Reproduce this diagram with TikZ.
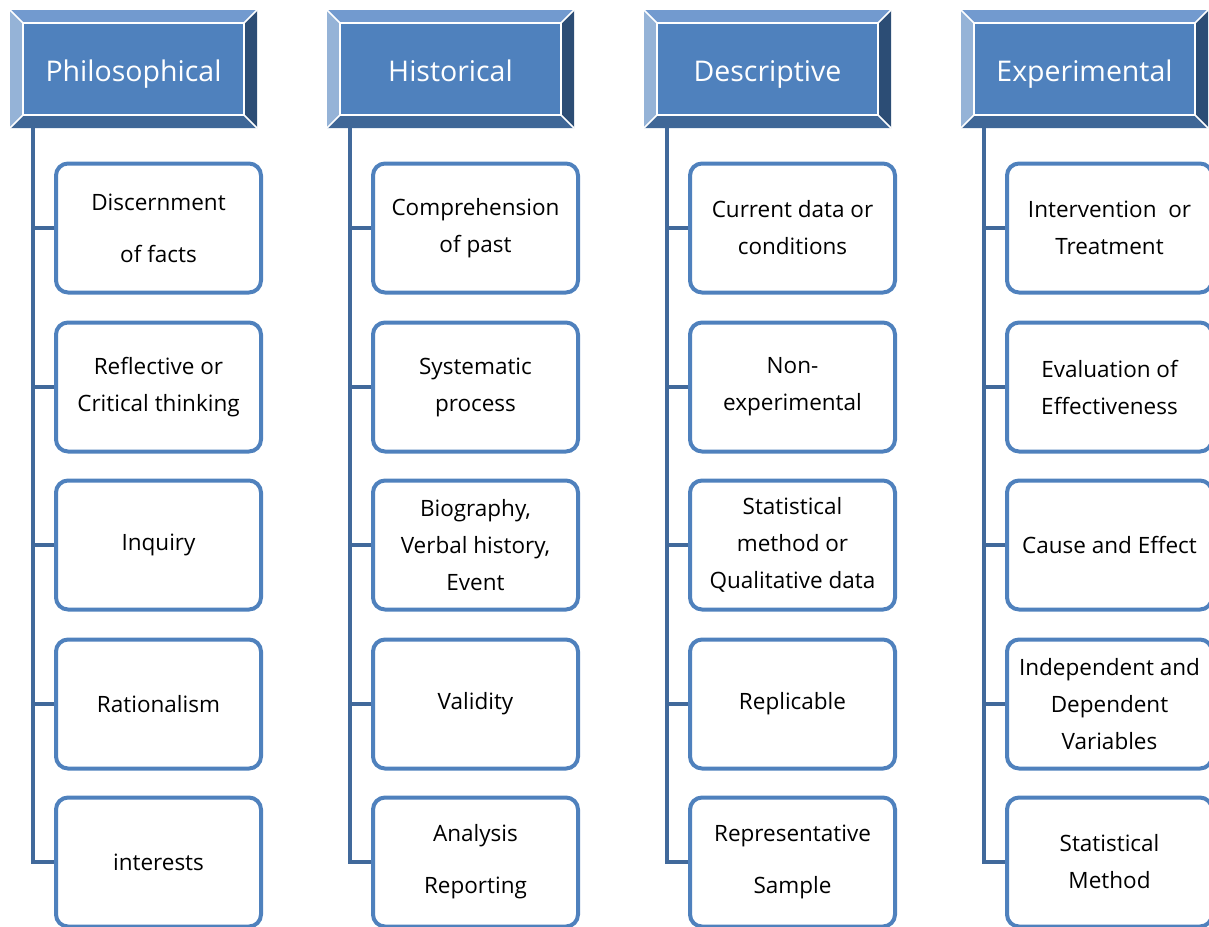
\documentclass[tikz,border=0pt]{standalone}
\usepackage{fontspec}
\setmainfont{Open Sans}
\definecolor{face}{HTML}{4F81BD}
\definecolor{btopc}{HTML}{729ACF}
\definecolor{bleftc}{HTML}{95B3D7}
\definecolor{brightc}{HTML}{2C4D75}
\definecolor{bbotc}{HTML}{3F6797}
\definecolor{spinec}{HTML}{41699B}
\tikzset{
  bev/.style={draw=white, line width=1.6pt, line join=miter},
  hface/.style={fill=face, draw=white, line width=1.6pt, minimum width=221pt, minimum height=92pt, inner sep=0pt},
  htext/.style={anchor=base, inner sep=0pt, text=white, font=\fontsize{28.5}{32}\selectfont},
  itembox/.style={draw=face, line width=4pt, rounded corners=12pt, fill=white, minimum width=205pt, minimum height=129pt, inner sep=0pt, align=center, font=\fontsize{22.5}{37}\selectfont},
  spine/.style={draw=spinec, line width=4pt}
}
\newcommand\hdr[3]{%
\begin{scope}[xshift=#2]
\fill[btopc] (10,10) -- (257,10) -- (244,23) -- (23,23) -- cycle;
\fill[bleftc] (10,10) -- (23,23) -- (23,115) -- (10,128) -- cycle;
\fill[brightc] (257,10) -- (244,23) -- (244,115) -- (257,128) -- cycle;
\fill[bbotc] (10,128) -- (23,115) -- (244,115) -- (257,128) -- cycle;
\draw[bev] (10,10) -- (23,23) (257,10) -- (244,23) (257,128) -- (244,115) (10,128) -- (23,115);
\node[hface] (#1) at (133.5,69) {};
\node[htext] (#1t) at (133.5,81) {#3};
\coordinate (#1top) at (33,128);
\end{scope}}
\begin{document}
\begin{tikzpicture}[x=1pt,y=-1pt]
\useasboundingbox (0,0) rectangle (1209,926);
% headers
\hdr{hA}{0}{Philosophical}
\hdr{hB}{317}{Historical}
\hdr{hC}{634}{Descriptive}
\hdr{hD}{951}{Experimental}
% boxes column A
\node[itembox] (a1) at (158.5,228) {Discernment\\[15pt]of facts};
\node[itembox] (a2) at (158.5,387) {Reflective or\\Critical thinking};
\node[itembox] (a3) at (158.5,545) {Inquiry};
\node[itembox] (a4) at (158.5,704) {Rationalism};
\node[itembox] (a5) at (158.5,862) {interests};
% column B
\node[itembox] (b1) at (475.5,228) {Comprehension\\of past};
\node[itembox] (b2) at (475.5,387) {Systematic\\process};
\node[itembox] (b3) at (475.5,545) {Biography,\\Verbal history,\\Event};
\node[itembox] (b4) at (475.5,704) {Validity};
\node[itembox] (b5) at (475.5,862) {Analysis\\[15pt]Reporting};
% column C
\node[itembox] (c1) at (792.5,228) {Current data or\\conditions};
\node[itembox] (c2) at (792.5,387) {Non-\\experimental};
\node[itembox] (c3) at (792.5,545) {Statistical\\method or\\Qualitative data};
\node[itembox] (c4) at (792.5,704) {Replicable};
\node[itembox] (c5) at (792.5,862) {Representative\\[15pt]Sample};
% column D
\node[itembox] (d1) at (1109.5,228) {Intervention\ \ or\\Treatment};
\node[itembox] (d2) at (1109.5,387) {Evaluation of\\Effectiveness};
\node[itembox] (d3) at (1109.5,545) {Cause and Effect};
\node[itembox] (d4) at (1109.5,704) {Independent and\\Dependent\\Variables};
\node[itembox] (d5) at (1109.5,862) {Statistical\\Method};
% connectors
\foreach \h/\c in {hA/a, hB/b, hC/c, hD/d}{
  \draw[spine] (\h top) |- (\c5.west);
  \foreach \i in {1,2,3,4}{
    \draw[spine] (\c\i.west) -- (\c\i.west -| \h top);
  }
}
\end{tikzpicture}
\end{document}
